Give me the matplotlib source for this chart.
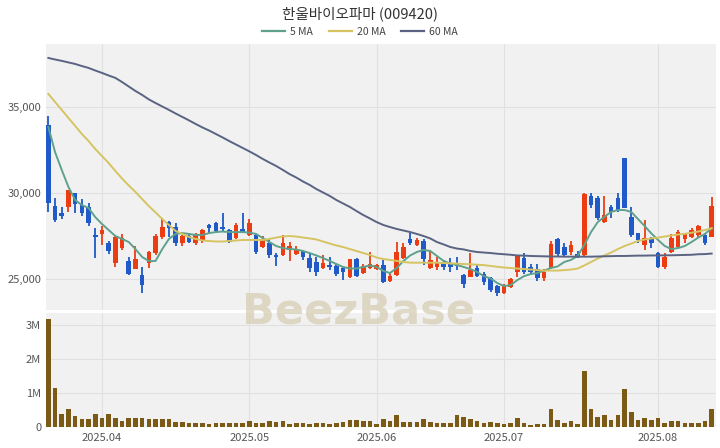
import matplotlib
matplotlib.use("Agg")
import matplotlib.pyplot as plt
from matplotlib.lines import Line2D
from matplotlib.ticker import FuncFormatter
import numpy as np
import pandas as pd

title = "한울바이오파마 (009420)"
holidays = ["2025-05-01", "2025-05-05", "2025-05-06", "2025-06-03", "2025-06-06"]
dates = [d for d in pd.bdate_range("2025-03-20", "2025-08-13") if d.strftime("%Y-%m-%d") not in holidays]

opens = [33950, 29240, 28850, 29170, 30020, 29300, 29200, 27560, 27620, 27110,
         25950, 26790, 26060, 25560, 25230, 25910, 26490, 27420, 28330, 28040,
         27080, 27500, 27110, 27270, 28140, 28240, 28040, 27850, 27370, 27890,
         27560, 27560, 26880, 27080, 26400, 26400, 26690, 26450, 26650, 26200,
         26000, 25620, 25810, 25750, 25620, 25130, 26150, 25370, 25620, 25560,
         25810, 24900, 25230, 26200, 27310, 26980, 27230, 25620, 25720, 25910,
         25950, 25950, 25230, 25130, 25620, 25290, 25040, 24590, 24200, 24520,
         25420, 26200, 25680, 25560, 25040, 25620, 27310, 26880, 26590, 26450,
         26400, 29800, 29690, 28330, 29200, 29690, 32020, 28620, 27650, 26980,
         27370, 26490, 25720, 26590, 26880, 27310, 27460, 27560, 27560, 27460]
highs = [34500, 29710, 29200, 30170, 30020, 29630, 29440, 27950, 28080, 27230,
         27500, 27620, 26300, 26920, 25720, 26650, 27600, 28530, 28400, 28240,
         27560, 27620, 27660, 27900, 28200, 28330, 28820, 27890, 28240, 28820,
         28470, 27600, 27500, 27300, 26500, 27560, 27170, 26920, 26700, 26500,
         26300, 26400, 26260, 25900, 25750, 26150, 26200, 25900, 26590, 25900,
         26100, 25400, 27170, 27080, 27660, 27400, 27300, 26690, 26300, 26100,
         26200, 26300, 25290, 26490, 25800, 25400, 25130, 24650, 24700, 25040,
         26400, 26500, 25900, 25900, 25600, 27200, 27400, 27110, 27200, 26650,
         30020, 29980, 29800, 29800, 29300, 29980, 32020, 29200, 27700, 28430,
         27450, 26590, 26530, 27600, 27850, 27700, 27950, 28140, 27650, 29750]
lows = [28900, 28310, 28470, 28910, 28820, 28660, 28080, 26200, 26980, 26450,
        25720, 26690, 25230, 25560, 24200, 25620, 26400, 27310, 27420, 26920,
        26900, 27080, 26980, 27100, 27690, 27700, 27810, 27080, 27300, 27660,
        27500, 26450, 26800, 26220, 25750, 26340, 26060, 26400, 26100, 25400,
        25150, 25560, 25520, 25170, 24940, 25080, 25100, 25300, 25560, 25500,
        24790, 24800, 25180, 26150, 26980, 26900, 25810, 25560, 25520, 25520,
        25400, 25500, 24460, 25100, 25100, 24650, 24260, 24010, 24150, 24450,
        25130, 25300, 25300, 24900, 24900, 25560, 26300, 26260, 26400, 26200,
        26340, 29110, 28430, 28270, 28530, 28910, 29110, 27470, 27080, 26700,
        26800, 25620, 25560, 26500, 26800, 27100, 27400, 27450, 27000, 27420]
closes = [29400, 28430, 28660, 30170, 29360, 28820, 28240, 27420, 27850, 26650,
          27420, 27370, 25290, 26150, 24650, 26590, 27500, 28040, 27950, 27080,
          27500, 27170, 27560, 27850, 27950, 27810, 27890, 27170, 28140, 27690,
          28270, 26590, 27310, 26400, 26260, 27080, 26920, 26690, 26260, 25620,
          25420, 25950, 25720, 25290, 25420, 26150, 25180, 25750, 25870, 25810,
          24840, 25180, 26590, 26880, 27080, 27270, 26150, 26100, 25910, 25680,
          25680, 25750, 24700, 25520, 25180, 24840, 24360, 24170, 24650, 24980,
          26340, 25420, 25420, 25040, 25420, 27040, 26450, 26400, 26980, 26260,
          29940, 29300, 28530, 28720, 28910, 29010, 29110, 27560, 27270, 27370,
          27080, 25720, 26300, 27370, 27750, 27620, 27850, 28080, 27080, 29240]
ma5 = [33840, 32380, 31340, 30350, 29590, 29300, 29130, 28600, 28200, 27850,
       27500, 27330, 27150, 26740, 26280, 26050, 26050, 26740, 27330, 27620,
       27670, 27620, 27560, 27560, 27670, 27730, 27760, 27730, 27730, 27730,
       27700, 27620, 27380, 27150, 26920, 26800, 26740, 26720, 26630, 26510,
       26370, 26220, 26050, 25870, 25700, 25610, 25610, 25700, 25790, 25700,
       25470, 25350, 25640, 26050, 26370, 26570, 26690, 26630, 26340, 26050,
       25900, 25810, 25700, 25580, 25410, 25170, 25030, 24770, 24590, 24650,
       24940, 25170, 25290, 25350, 25490, 25640, 25730, 25990, 26110, 26340,
       26980, 27730, 28310, 28620, 28900, 29010, 29010, 28900, 28490, 28080,
       27650, 27270, 26920, 26740, 26800, 26920, 27150, 27410, 27620, 27950]
ma20 = [35760, 35290, 34830, 34360, 33900, 33430, 33020, 32560, 32150, 31740,
        31280, 30840, 30440, 30060, 29650, 29240, 28870, 28490, 28140, 27790,
        27620, 27440, 27330, 27240, 27210, 27180, 27180, 27210, 27240, 27270,
        27270, 27270, 27270, 27330, 27410, 27470, 27500, 27470, 27410, 27360,
        27300, 27180, 27060, 26950, 26860, 26740, 26630, 26510, 26400, 26250,
        26160, 26110, 26050, 25990, 25950, 25950, 25950, 25950, 25950, 25930,
        25910, 25900, 25870, 25860, 25830, 25810, 25760, 25710, 25670, 25640,
        25610, 25580, 25550, 25520, 25490, 25490, 25490, 25520, 25550, 25610,
        25790, 25990, 26190, 26370, 26540, 26740, 26920, 27060, 27210, 27300,
        27360, 27410, 27470, 27530, 27590, 27630, 27690, 27760, 27850, 27950]
ma60 = [37850, 37760, 37680, 37590, 37500, 37380, 37270, 37120, 36980, 36830,
        36690, 36450, 36190, 35930, 35700, 35440, 35230, 35030, 34830, 34620,
        34420, 34220, 34010, 33810, 33630, 33430, 33230, 33020, 32820, 32620,
        32420, 32210, 31980, 31770, 31570, 31340, 31100, 30900, 30670, 30470,
        30230, 30030, 29830, 29590, 29390, 29190, 28950, 28720, 28520, 28310,
        28140, 28020, 27910, 27820, 27730, 27620, 27500, 27360, 27150, 27010,
        26860, 26770, 26720, 26630, 26570, 26540, 26510, 26470, 26440, 26410,
        26370, 26360, 26340, 26330, 26320, 26310, 26310, 26300, 26300, 26300,
        26300, 26300, 26310, 26320, 26330, 26340, 26340, 26350, 26360, 26360,
        26370, 26370, 26380, 26380, 26390, 26400, 26410, 26440, 26450, 26480]
volumes = [3.17, 1.16, 0.37, 0.53, 0.33, 0.25, 0.23, 0.38, 0.27, 0.37,
           0.27, 0.17, 0.26, 0.26, 0.26, 0.23, 0.25, 0.25, 0.24, 0.16,
           0.14, 0.11, 0.13, 0.13, 0.08, 0.13, 0.13, 0.13, 0.13, 0.13,
           0.17, 0.12, 0.12, 0.17, 0.16, 0.18, 0.10, 0.11, 0.11, 0.10,
           0.11, 0.12, 0.10, 0.12, 0.15, 0.22, 0.22, 0.18, 0.18, 0.09,
           0.25, 0.18, 0.35, 0.16, 0.16, 0.16, 0.23, 0.16, 0.13, 0.13,
           0.13, 0.35, 0.28, 0.23, 0.18, 0.13, 0.16, 0.13, 0.10, 0.13,
           0.26, 0.12, 0.05, 0.10, 0.10, 0.52, 0.20, 0.13, 0.18, 0.10,
           1.65, 0.54, 0.28, 0.36, 0.20, 0.35, 1.12, 0.44, 0.20, 0.26,
           0.20, 0.26, 0.12, 0.18, 0.18, 0.13, 0.13, 0.13, 0.18, 0.53]
volumes = [v * 1e6 for v in volumes]

UP = "#ec3d12"
DOWN = "#1f5ac8"
VOLC = "#7a5a14"
BG = "#f1f1f1"
GRID = "#e0e0e0"
C5, C20, C60 = "#5ea18d", "#d6c462", "#5a6382"

plt.rcParams["font.family"] = ["Noto Sans CJK KR", "DejaVu Sans"]

fig = plt.figure(figsize=(7.2, 4.48), dpi=100)
W, H = 720, 448
axp = fig.add_axes([46 / W, 1 - 310 / H, 670 / W, 266 / H])
axv = fig.add_axes([46 / W, 1 - 427 / H, 670 / W, 114 / H])

x = np.arange(len(dates))
o = np.array(opens); c = np.array(closes); h = np.array(highs); l = np.array(lows)
cols = [UP if cc >= oo else DOWN for oo, cc in zip(o, c)]

for ax in (axp, axv):
    ax.set_facecolor(BG)
    for s in ax.spines.values():
        s.set_visible(False)
    ax.grid(True, color=GRID, linewidth=0.8)
    ax.set_axisbelow(True)
    ax.tick_params(length=0, labelsize=8, colors="#555555")
    ax.set_xlim(-0.35, len(dates) - 0.35)

axp.vlines(x, l, h, colors=cols, linewidth=1.3, zorder=3)
bottoms = np.minimum(o, c)
heights = np.maximum(np.abs(c - o), 40)
axp.bar(x, heights, bottom=bottoms, width=0.68, color=cols, zorder=4)
axp.plot(x, ma5, color=C5, lw=1.4, zorder=5)
axp.plot(x, ma20, color=C20, lw=1.4, zorder=5)
axp.plot(x, ma60, color=C60, lw=1.4, zorder=5)
axp.set_ylim(23200, 38660)
axp.set_yticks([25000, 30000, 35000])
axp.yaxis.set_major_formatter(FuncFormatter(lambda v, p: f"{int(v):,}"))

axv.bar(x, volumes, width=0.68, color=VOLC, zorder=3)
axv.set_ylim(0, 3.353e6)
axv.set_yticks([0, 1e6, 2e6, 3e6])
axv.yaxis.set_major_formatter(FuncFormatter(lambda v, p: "0" if v == 0 else f"{int(v/1e6)}M"))

month_idx = [i for i in range(len(dates)) if i > 0 and dates[i].month != dates[i - 1].month]
month_lbl = [dates[i].strftime("%Y.%m") for i in month_idx]
for ax in (axp, axv):
    ax.set_xticks(month_idx)
axp.set_xticklabels([])
axv.set_xticklabels(month_lbl)
axv.tick_params(axis="x", pad=4)

fig.text(0.5, 1 - 14 / H, title, ha="center", va="center", fontsize=10.5, color="#333333")
handles = [Line2D([], [], color=C5, lw=1.6), Line2D([], [], color=C20, lw=1.6), Line2D([], [], color=C60, lw=1.6)]
fig.legend(handles, ["5 MA", "20 MA", "60 MA"], loc="center", bbox_to_anchor=(0.5, 1 - 32 / H),
           ncol=3, frameon=False, fontsize=7.5, handlelength=2.2, columnspacing=1.5,
           handletextpad=0.5, labelcolor="#444444")

fig.text(358 / W, 1 - 311 / H, "BeezBase", ha="center", va="center", fontsize=31,
         fontweight="bold", color="#d8d0b8", alpha=0.8, family="DejaVu Sans")

fig.savefig("out.png", dpi=100, facecolor="white")
